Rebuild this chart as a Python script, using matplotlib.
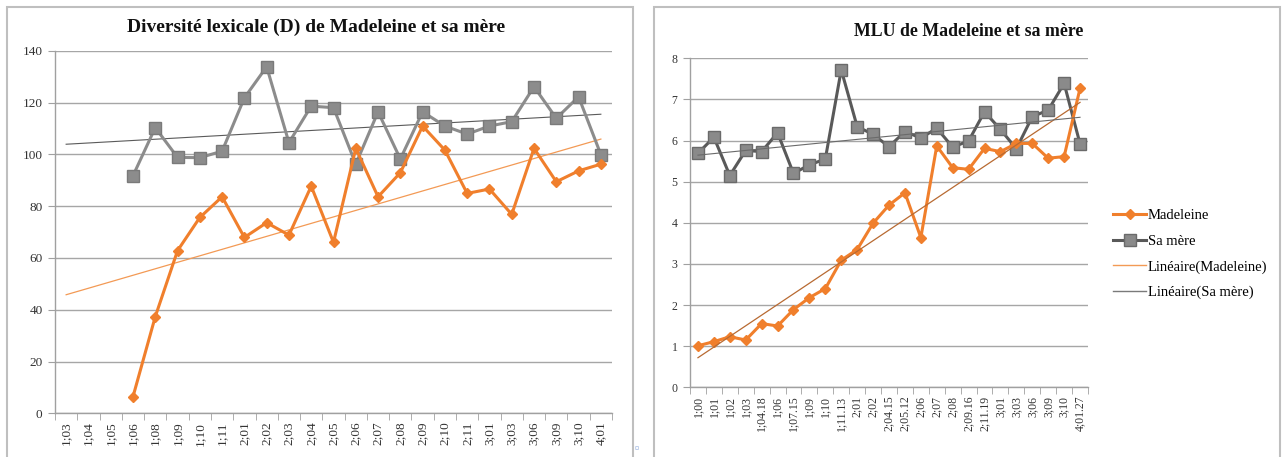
import numpy as np
import matplotlib
matplotlib.use('Agg')
import matplotlib.pyplot as plt
from matplotlib.patches import Rectangle
from matplotlib.lines import Line2D

plt.rcParams['font.family'] = ['Liberation Serif', 'DejaVu Serif']

# --- Diversité lexicale (D) ---
ages_d = ['1;03', '1;04', '1;05', '1;06', '1;08', '1;09', '1;10', '1;11', '2;01', '2;02',
          '2;03', '2;04', '2;05', '2;06', '2;07', '2;08', '2;09', '2;10', '2;11', '3;01',
          '3;03', '3;06', '3;09', '3;10', '4;01']
mad_d = [np.nan, np.nan, np.nan, 6.4, 37.3, 62.8, 75.6, 83.6, 67.9, 73.6,
         68.8, 87.7, 66.0, 102.3, 83.6, 92.9, 110.9, 101.6, 84.9, 86.6,
         76.8, 102.3, 89.4, 93.6, 96.2]
mere_d = [np.nan, np.nan, np.nan, 91.7, 110.3, 98.8, 98.7, 101.2, 121.8, 133.8,
          104.5, 118.6, 118.0, 96.2, 116.4, 98.2, 116.4, 110.9, 107.8, 110.9,
          112.6, 126.1, 113.9, 122.2, 99.9]

# --- MLU ---
ages_m = ['1;00', '1;01', '1;02', '1;03', '1;04.18', '1;06', '1;07.15', '1;09', '1;10', '1;11.13',
          '2;01', '2;02', '2;04.15', '2;05.12', '2;06', '2;07', '2;08', '2;09.16', '2;11.19', '3;01',
          '3;03', '3;06', '3;09', '3;10', '4;01.27']
mad_m = [1.01, 1.11, 1.23, 1.15, 1.55, 1.49, 1.89, 2.18, 2.40, 3.09,
         3.35, 3.99, 4.43, 4.73, 3.64, 5.87, 5.34, 5.30, 5.81, 5.73,
         5.93, 5.93, 5.57, 5.61, 7.27]
mere_m = [5.69, 6.08, 5.15, 5.76, 5.73, 6.19, 5.20, 5.41, 5.55, 7.72,
          6.34, 6.15, 5.85, 6.22, 6.06, 6.30, 5.84, 5.99, 6.70, 6.27,
          5.80, 6.58, 6.74, 7.39, 5.92]

ORANGE = '#f07f2c'
W, H = 1283, 457


def trend(y):
    y = np.asarray(y, dtype=float)
    x = np.arange(len(y))
    ok = ~np.isnan(y)
    a, b = np.polyfit(x[ok], y[ok], 1)
    xs = np.array([0, len(y) - 1])
    return xs, a * xs + b


def style_axes(ax, labels, ymax, ystep, fs):
    n = len(labels)
    ax.set_xlim(-0.5, n - 0.5)
    ax.set_ylim(0, ymax)
    ax.set_yticks(np.arange(0, ymax + ystep / 2, ystep))
    ax.yaxis.grid(True, color='#a6a6a6', linewidth=1.0)
    ax.set_axisbelow(True)
    for s in ['top', 'right']:
        ax.spines[s].set_visible(False)
    for s in ['left', 'bottom']:
        ax.spines[s].set_color('#a0a0a0')
        ax.spines[s].set_linewidth(1.0)
    ax.set_xticks(np.arange(n))
    ax.set_xticklabels(labels, rotation=90, fontsize=fs, color='#333333')
    ax.set_xticks(np.arange(n + 1) - 0.5, minor=True)
    ax.tick_params(axis='x', which='major', length=0, pad=6)
    ax.tick_params(axis='x', which='minor', length=5, color='#a0a0a0', direction='out')
    ax.tick_params(axis='y', length=5, color='#a0a0a0', labelsize=fs, labelcolor='#333333', pad=4)


fig = plt.figure(figsize=(W / 100, H / 100), dpi=100)

# panel frames
fig.patches.append(Rectangle((7 / W, -0.05), 626 / W, 1.05 - 7 / H, transform=fig.transFigure,
                             fill=False, edgecolor='#bfbfbf', linewidth=1.5))
fig.patches.append(Rectangle((654 / W, -0.05), 626 / W, 1.05 - 7 / H, transform=fig.transFigure,
                             fill=False, edgecolor='#bfbfbf', linewidth=1.5))

# left chart
ax1 = fig.add_axes([55 / W, 1 - 413.3 / H, 557 / W, 362.6 / H])
x = np.arange(len(ages_d))
tx, ty = trend(mere_d)
ax1.plot(tx, ty, color='#5a5a5a', linewidth=0.8, zorder=2)
tx, ty = trend(mad_d)
ax1.plot(tx, ty, color='#f39a55', linewidth=0.9, zorder=2)
ax1.plot(x, mere_d, color='#8c8c8c', linewidth=2.2, marker='s', markersize=8,
         markerfacecolor='#8c8c8c', markeredgecolor='#7a7a7a', zorder=3)
ax1.plot(x, mad_d, color=ORANGE, linewidth=2.2, marker='D', markersize=5.5,
         markerfacecolor=ORANGE, markeredgecolor=ORANGE, zorder=4)
style_axes(ax1, ages_d, 140, 20, 9.5)
fig.text(316 / W, 1 - 27 / H, 'Diversité lexicale (D) de Madeleine et sa mère',
         ha='center', va='center', fontsize=14, fontweight='bold', color='#111111')

# right chart
ax2 = fig.add_axes([690 / W, 1 - 387.3 / H, 398 / W, 329 / H])
x = np.arange(len(ages_m))
ax2.plot(x, mere_m, color='#595959', linewidth=2.2, marker='s', markersize=8,
         markerfacecolor='#8a8a8a', markeredgecolor='#6a6a6a', zorder=3)
ax2.plot(x, mad_m, color=ORANGE, linewidth=2.2, marker='D', markersize=5.5,
         markerfacecolor=ORANGE, markeredgecolor=ORANGE, zorder=4)
tx, ty = trend(mad_m)
ax2.plot(tx, ty, color='#b86a32', linewidth=0.9, zorder=5)
tx, ty = trend(mere_m)
ax2.plot(tx, ty, color='#6a6a6a', linewidth=0.8, zorder=5)
style_axes(ax2, ages_m, 8, 1, 8.5)
fig.text(969 / W, 1 - 31 / H, 'MLU de Madeleine et sa mère',
         ha='center', va='center', fontsize=12.8, fontweight='bold', color='#111111')

handles = [
    Line2D([], [], color=ORANGE, linewidth=2.2, marker='D', markersize=5.5),
    Line2D([], [], color='#595959', linewidth=2.2, marker='s', markersize=8,
           markerfacecolor='#8a8a8a', markeredgecolor='#6a6a6a'),
    Line2D([], [], color='#f39a55', linewidth=1.0),
    Line2D([], [], color='#7a7a7a', linewidth=1.0),
]
fig.legend(handles, ['Madeleine', 'Sa mère', 'Linéaire(Madeleine)', 'Linéaire(Sa mère)'],
           loc='upper left', bbox_to_anchor=(1107 / W, 1 - 203 / H), frameon=False,
           fontsize=10.5, handlelength=2.3, handletextpad=0.1, labelspacing=0.85,
           borderaxespad=0)

fig.text(637 / W, 1 - 449 / H, '¤', fontsize=6, color='#6a8fd0', ha='center', va='center')

fig.savefig('out.png', dpi=100)
